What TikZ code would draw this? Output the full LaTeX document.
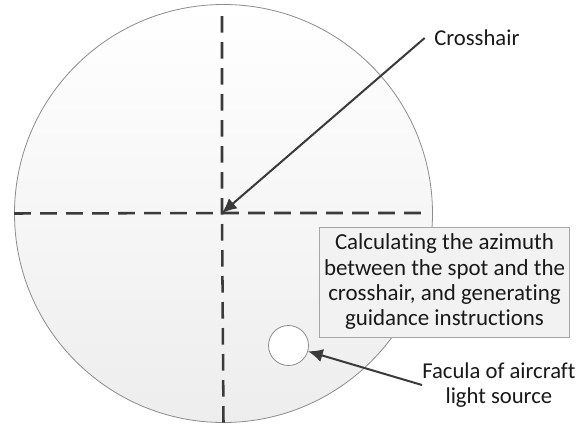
\documentclass[tikz,border=0pt]{standalone}
\usepackage{fontspec}
\setmainfont{Carlito}[Ligatures=NoCommon]
\usetikzlibrary{arrows.meta,positioning,calc}
\definecolor{rim}{HTML}{8C8C8C}
\definecolor{ink}{HTML}{3A3A3A}
\definecolor{panel}{HTML}{F2F2F2}
\tikzset{
  label/.style={font=\fontsize{17}{19.2}\selectfont, text=black!90, align=center, inner sep=0pt},
  note/.style={label, font=\fontsize{17.2}{19}\selectfont, draw=black!35, line width=0.6pt, fill=panel},
  cross/.style={draw=ink, line width=1.9pt, dash pattern=on 12.5pt off 7pt},
  pointer/.style={draw=ink, line width=1.5pt, -{Latex[length=11pt, width=10pt]}},
}

\begin{document}
\begin{tikzpicture}[x=0.75pt, y=-0.75pt]
    \useasboundingbox (0,0) rectangle (588,425);
    \node[circle, draw=rim, line width=0.6pt, minimum size=313.5pt, inner sep=0pt,
      top color=white, bottom color=black!7] (view) at (223.5,213.5) {};
    \coordinate (ch) at (222,213);
    \draw[cross] (view.west) -- (ch) -- (422,213);
    \draw[cross] (222,16) -- (ch) -- (view.south);
    \node[circle, draw=rim, line width=0.6pt, fill=white, minimum size=30pt, inner sep=0pt] (spot) at (288.5,345.5) {};
    \node[note, minimum width=188pt, minimum height=82.5pt] (calc) at (444.5,282)
      {Calculating the azimuth\\between the spot and the\\crosshair, and generating\\guidance instructions};
    \node[label, anchor=west] (crs) at (434,38) {Crosshair};
    \node[label, anchor=west] (fac) at (422,385) {Facula of aircraft\\light source};
    \draw[pointer] (crs.west) ++(-7pt,0) -- (ch);
    \draw[pointer] (fac.west) -- (spot);
  \end{tikzpicture}
\end{document}
